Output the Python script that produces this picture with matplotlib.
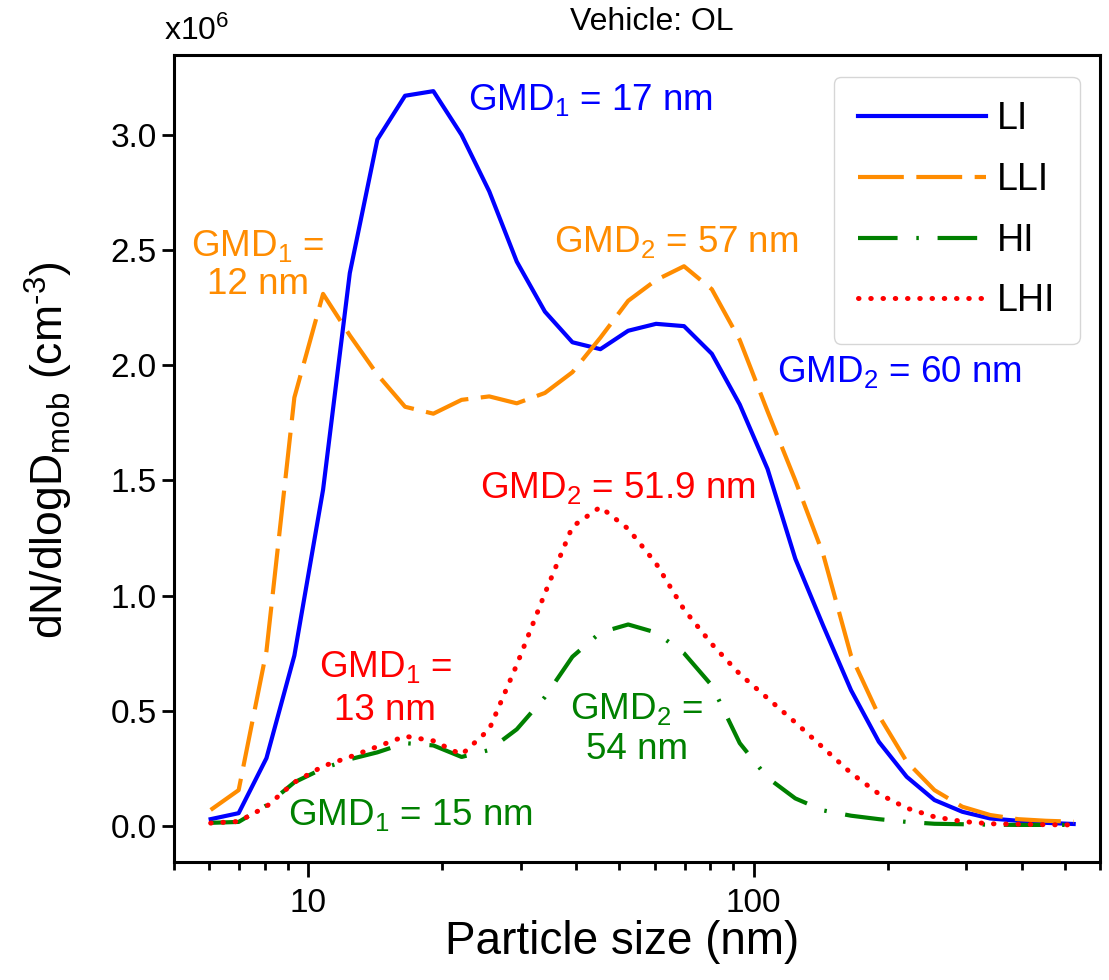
import numpy as np
import matplotlib
matplotlib.use("Agg")
import matplotlib.pyplot as plt
from matplotlib.ticker import FixedLocator, LogLocator, NullFormatter

plt.rcParams['font.family'] = ['Liberation Sans', 'DejaVu Sans']
plt.rcParams['mathtext.fontset'] = 'custom'
plt.rcParams['mathtext.rm'] = 'Liberation Sans'
plt.rcParams['mathtext.it'] = 'Liberation Sans'

# EEPS channel midpoints (nm)
size_nm = [6.04, 6.98, 8.06, 9.31, 10.8, 12.4, 14.3, 16.5, 19.1, 22.1, 25.5,
           29.4, 34.0, 39.2, 45.3, 52.3, 60.4, 69.8, 80.6, 93.1, 107.5, 124.1,
           143.3, 165.5, 191.1, 220.7, 254.8, 294.3, 339.8, 392.4, 453.2, 523.3]

# dN/dlogDmob, x10^6 cm^-3
li = [0.03, 0.056, 0.295, 0.74, 1.46, 2.40, 2.98, 3.17, 3.19, 3.00, 2.755,
      2.45, 2.233, 2.10, 2.07, 2.15, 2.18, 2.17, 2.05, 1.83, 1.55, 1.16,
      0.87, 0.59, 0.366, 0.214, 0.113, 0.062, 0.033, 0.023, 0.014, 0.009]
lli = [0.07, 0.156, 0.76, 1.86, 2.31, 2.13, 1.96, 1.82, 1.79, 1.85, 1.865,
       1.835, 1.88, 1.97, 2.12, 2.28, 2.37, 2.43, 2.33, 2.11, 1.80, 1.50,
       1.18, 0.74, 0.48, 0.28, 0.156, 0.084, 0.048, 0.03, 0.023, 0.019]
hi = [0.014, 0.018, 0.09, 0.19, 0.25, 0.29, 0.32, 0.36, 0.35, 0.30, 0.33,
      0.42, 0.56, 0.735, 0.84, 0.875, 0.84, 0.75, 0.61, 0.36, 0.21, 0.12,
      0.068, 0.045, 0.03, 0.018, 0.01, 0.008, 0.006, 0.005, 0.005, 0.005]
lhi = [0.013, 0.02, 0.085, 0.19, 0.26, 0.30, 0.345, 0.39, 0.37, 0.31, 0.42,
       0.70, 1.01, 1.30, 1.385, 1.29, 1.14, 0.94, 0.79, 0.66, 0.555, 0.45,
       0.34, 0.23, 0.14, 0.078, 0.04, 0.02, 0.01, 0.008, 0.006, 0.005]

fig = plt.figure(figsize=(11.09, 9.8), dpi=100)
ax = fig.add_axes([0.157, 0.1204, 0.835, 0.8235])

ax.plot(size_nm, li, color='#0000ff', lw=3, label='LI')
ax.plot(size_nm, lli, color='#ff8c00', lw=3, dashes=(11, 3), label='LLI')
ax.plot(size_nm, hi, color='#008000', lw=3, dashes=(9.5, 4.5, 0.6, 4.5), label='HI')
ax.plot(size_nm, lhi, color='#ff0000', lw=3.6, dashes=(0.1, 2.35),
        dash_capstyle='round', label='LHI')

ax.set_xscale('log')
ax.set_xlim(5, 600)
ax.set_ylim(-0.156, 3.347)
ax.yaxis.set_major_locator(FixedLocator([0, 0.5, 1.0, 1.5, 2.0, 2.5, 3.0]))
ax.set_yticklabels(['0.0', '0.5', '1.0', '1.5', '2.0', '2.5', '3.0'])
ax.xaxis.set_major_locator(FixedLocator([10, 100]))
ax.set_xticklabels(['10', '100'])
ax.xaxis.set_minor_locator(LogLocator(base=10, subs=np.arange(2, 10)))
ax.xaxis.set_minor_formatter(NullFormatter())

for s in ax.spines.values():
    s.set_linewidth(2.2)
ax.tick_params(axis='both', which='major', labelsize=24, width=2, length=9)
ax.tick_params(axis='x', which='major', length=11, pad=8)
ax.tick_params(axis='x', which='minor', width=2, length=6)

ax.set_xlabel('Particle size (nm)', fontsize=33)
ax.xaxis.set_label_coords(0.484, -0.072)
ax.set_ylabel(r'dN/dlogD$_\mathregular{mob}$ (cm$^\text{-3}$)', fontsize=32)
ax.yaxis.set_label_coords(-0.107, 0.51)

fig.text(652 / 1109, 1 - 22 / 980, 'Vehicle: OL', fontsize=23, ha='center', va='center')
fig.text(164 / 1109, 1 - 31 / 980, r'x10$^\mathregular{6}$', fontsize=23, ha='left', va='center')

leg = ax.legend(loc='upper right', bbox_to_anchor=(0.978, 0.973), fontsize=27,
                handlelength=3.4, labelspacing=0.66, borderpad=0.65,
                handletextpad=0.3, borderaxespad=0)

tk = dict(fontsize=26.5, va='center')
ax.text(22.8, 3.15, r'GMD$_\mathregular{1}$ = 17 nm', color='#0000ff', ha='left', **tk)
ax.text(7.71, 2.436, 'GMD$_\\mathregular{1}$ =\n12 nm', color='#ff8c00', ha='center',
        linespacing=1.1, **tk)
ax.text(35.7, 2.535, r'GMD$_\mathregular{2}$ = 57 nm', color='#ff8c00', ha='left', **tk)
ax.text(113, 1.971, r'GMD$_\mathregular{2}$ = 60 nm', color='#0000ff', ha='left', **tk)
ax.text(24.3, 1.467, r'GMD$_\mathregular{2}$ = 51.9 nm', color='#ff0000', ha='left', **tk)
ax.text(14.9, 0.599, 'GMD$_\\mathregular{1}$ =\n13 nm', color='#ff0000', ha='center',
        linespacing=1.3, **tk)
ax.text(54.6, 0.421, 'GMD$_\\mathregular{2}$ =\n54 nm', color='#008000', ha='center',
        linespacing=1.2, **tk)
ax.text(9.0, 0.048, r'GMD$_\mathregular{1}$ = 15 nm', color='#008000', ha='left', **tk)

fig.savefig('out.png', dpi=100)
